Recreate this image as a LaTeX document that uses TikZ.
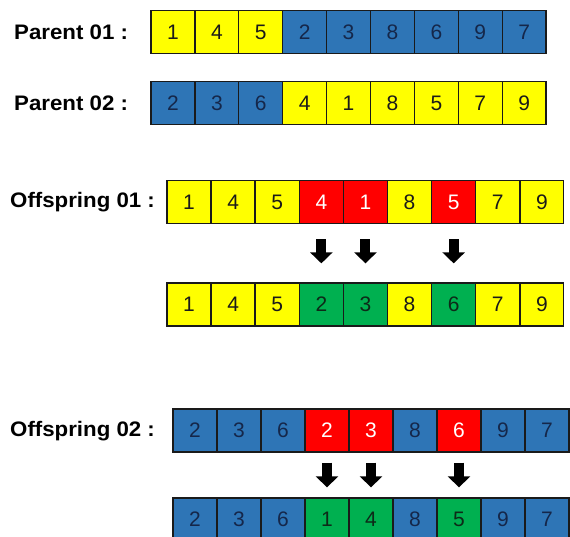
\documentclass[tikz,border=0pt]{standalone}
\usepackage{fontspec}
\setmainfont{Liberation Sans}
\usetikzlibrary{arrows.meta}
\definecolor{fY}{HTML}{FFFF00}
\definecolor{fB}{HTML}{2E75B6}
\definecolor{fR}{HTML}{FF0000}
\definecolor{fG}{HTML}{00B050}
\definecolor{tY}{HTML}{1A1A1A}
\definecolor{tB}{HTML}{15274A}
\definecolor{tR}{HTML}{FFFFFF}
\definecolor{tG}{HTML}{0D2A18}
\definecolor{edge}{HTML}{1A1A1A}
\tikzset{
  cell/.style={draw=edge, line width=1.3pt, minimum width=43.9pt, minimum height=43pt,
    inner sep=0pt, font=\fontsize{21}{21}\selectfont},
  lbl/.style={font=\fontsize{21}{21}\selectfont\bfseries, anchor=west, inner sep=0pt,
    transform shape, xscale=1.06},
  fat/.style={line width=10pt, black, -{Triangle[width=22pt,length=11pt]}}
}
\begin{document}
\begin{tikzpicture}[x=1pt,y=-1pt]
\fill[white] (0,0) rectangle (570,536);
\useasboundingbox (0,0) rectangle (570,536);
% labels
\node[lbl] (l1) at (14,32) {Parent 01 :};
\node[lbl] (l2) at (14,103) {Parent 02 :};
\node[lbl] (l3) at (10,202) {Offspring 01 :};
\node[lbl] (l4) at (10,431) {Offspring 02 :};
% rows
\foreach \v/\s [count=\i] in {1/Y,4/Y,5/Y,2/B,3/B,8/B,6/B,9/B,7/B}
  \node[cell, fill=f\s, text=t\s] (p1\i) at ({151+43.9*(\i-0.5)},32) {\v};
\foreach \v/\s [count=\i] in {2/B,3/B,6/B,4/Y,1/Y,8/Y,5/Y,7/Y,9/Y}
  \node[cell, fill=f\s, text=t\s] (p2\i) at ({151+43.9*(\i-0.5)},103) {\v};
\foreach \v/\s [count=\i] in {1/Y,4/Y,5/Y,4/R,1/R,8/Y,5/R,7/Y,9/Y}
  \node[cell, fill=f\s, text=t\s] (oa\i) at ({167+44.1*(\i-0.5)},202) {\v};
\foreach \v/\s [count=\i] in {1/Y,4/Y,5/Y,2/G,3/G,8/Y,6/G,7/Y,9/Y}
  \node[cell, fill=f\s, text=t\s] (oac\i) at ({167+44.1*(\i-0.5)},304.5) {\v};
\foreach \v/\s [count=\i] in {2/B,3/B,6/B,2/R,3/R,8/B,6/R,9/B,7/B}
  \node[cell, fill=f\s, text=t\s] (ob\i) at ({173+44*(\i-0.5)},430.5) {\v};
\foreach \v/\s [count=\i] in {2/B,3/B,6/B,1/G,4/G,8/B,5/G,9/B,7/B}
  \node[cell, fill=f\s, text=t\s] (obc\i) at ({173+44*(\i-0.5)},519.5) {\v};
% arrows
\foreach \i in {4,5,7}{
  \coordinate (as\i) at ([yshift=-15pt]oa\i.south);
  \coordinate (ae\i) at ([yshift=19pt]oac\i.north);
  \draw[fat] (as\i) -- (ae\i);
  \coordinate (bs\i) at ([yshift=-10pt]ob\i.south);
  \coordinate (be\i) at ([yshift=10pt]obc\i.north);
  \draw[fat] (bs\i) -- (be\i);
}
\end{tikzpicture}
\end{document}
